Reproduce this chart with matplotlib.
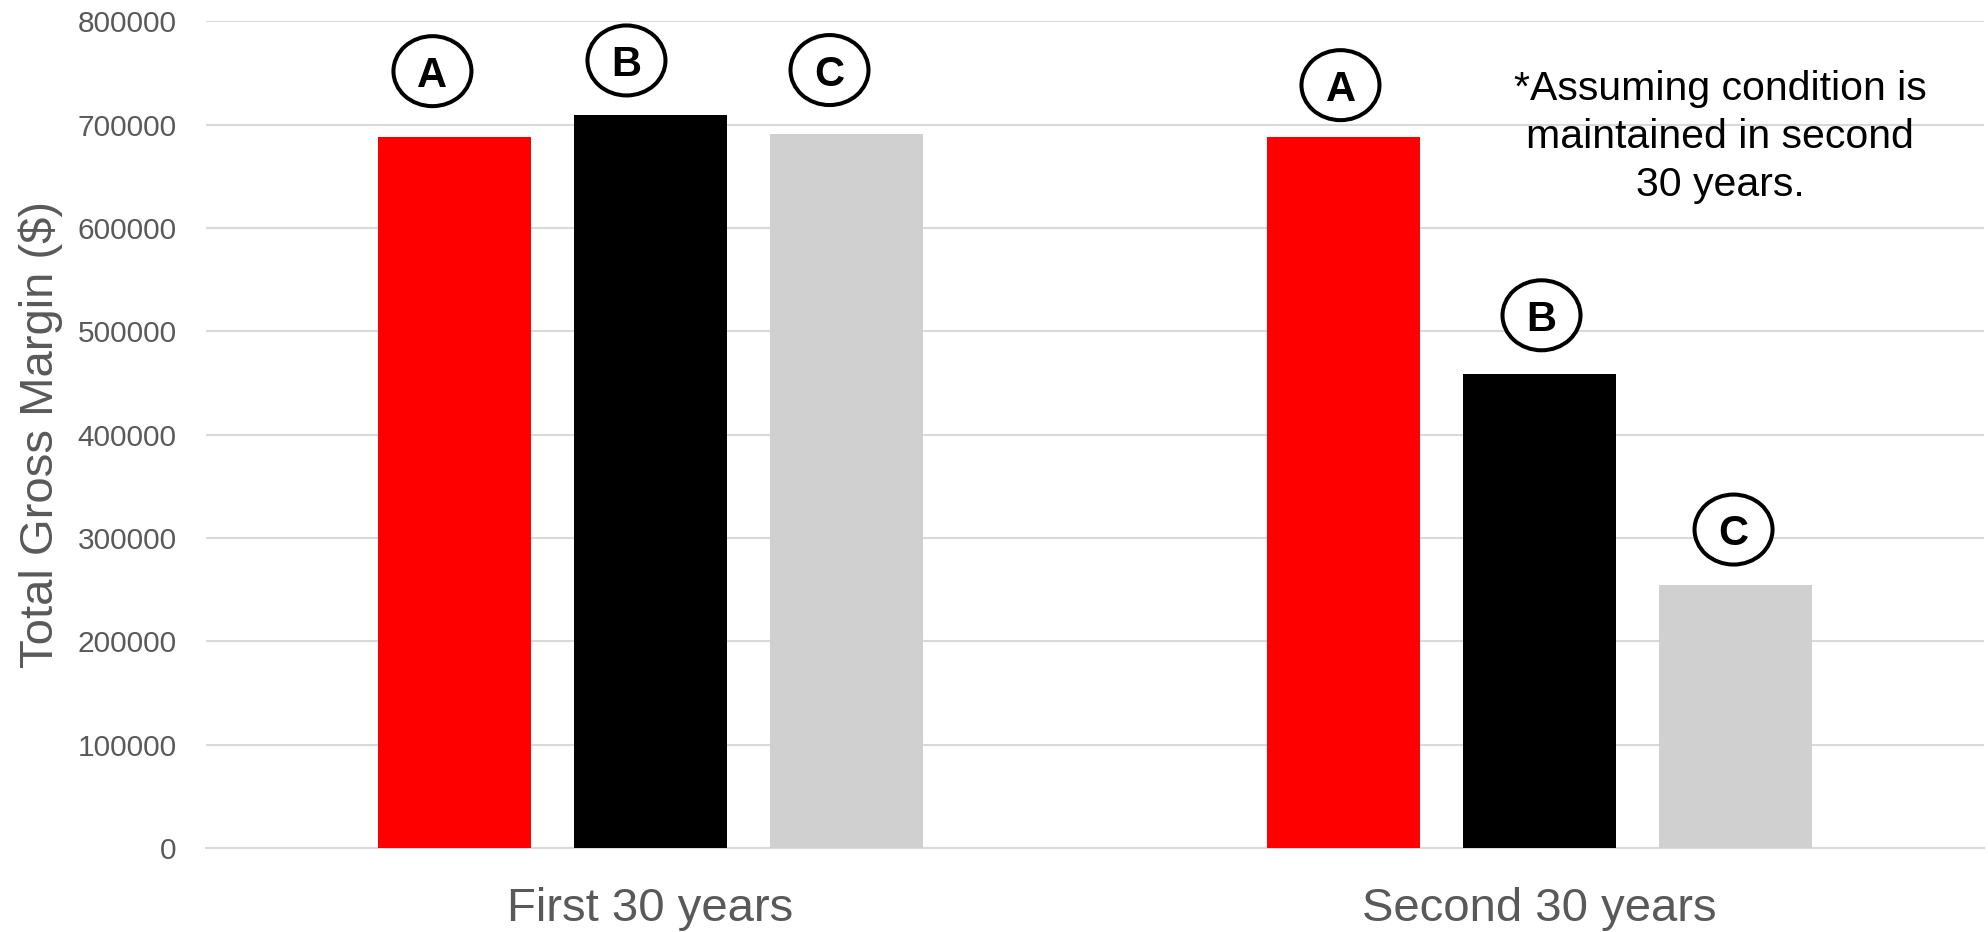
import matplotlib.pyplot as plt
from matplotlib.patches import Ellipse
from matplotlib.transforms import Affine2D
import numpy as np

categories = ["First 30 years", "Second 30 years"]
series = ["A", "B", "C"]
values_a = [688000, 688000]
values_b = [709000, 458500]
values_c = [691000, 255000]
colors = ["#FF0000", "#000000", "#D0D0D0"]

# label offsets from bar top (pixels: dx, dy) - hand placed in original
label_offsets = [
    [(-22, 66), (-3, 52)],
    [(-24, 55), (2, 59)],
    [(-17, 64), (-2, 55)],
]

plt.rcParams['font.family'] = ['Liberation Sans', 'DejaVu Sans']

fig = plt.figure(figsize=(19.88, 9.32), dpi=100)
ax = fig.add_axes([0.1036, 0.0901, 0.8944, 0.8869])

x = np.arange(len(categories))
width = 0.172
step = 0.2205
ax.set_xlim(-0.5, 1.5)
ax.set_ylim(0, 800000)

all_vals = [values_a, values_b, values_c]
for j, (name, vals, col) in enumerate(zip(series, all_vals, colors)):
    xs = x + (j - 1) * step
    ax.bar(xs, vals, width=width, color=col, zorder=3)
    for i, (xi, v) in enumerate(zip(xs, vals)):
        dx, dy = label_offsets[j][i]
        px, py = ax.transData.transform((xi, v))
        cx, cy = px + dx, py + dy
        ell = Ellipse((0, 0), 78, 70, fc='white', ec='black', lw=2.9,
                      transform=Affine2D().translate(cx, cy), zorder=5)
        fig.patches.append(ell)
        fig.text(cx / 1988, cy / 932, name, ha='center', va='center_baseline',
                 fontsize=30, fontweight='bold', color='black', zorder=6)

ax.set_yticks(range(0, 800001, 100000))
ax.set_yticklabels([str(v) for v in range(0, 800001, 100000)])
ax.set_xticks(x)
ax.set_xticklabels(categories)

ax.grid(axis='y', color='#D9D9D9', lw=1.5, zorder=0)
for s in ['top', 'right', 'left']:
    ax.spines[s].set_visible(False)
ax.spines['bottom'].set_color('#D9D9D9')
ax.spines['bottom'].set_linewidth(1.5)
ax.tick_params(axis='y', length=0, labelsize=21.5, labelcolor='#595959', pad=21)
ax.tick_params(axis='x', length=0, labelsize=34, labelcolor='#595959', pad=28)
ax.set_ylabel("Total Gross Margin ($)", fontsize=34, color='#595959')
ax.yaxis.set_label_coords(-0.0804, 0.5)

ax.text(1720 / 1988, 1 - 137 / 932, "*Assuming condition is\nmaintained in second\n30 years.",
        transform=fig.transFigure, ha='center', va='center', fontsize=29.5,
        linespacing=1.35, color='black')

fig.savefig("out.png", dpi=100)
